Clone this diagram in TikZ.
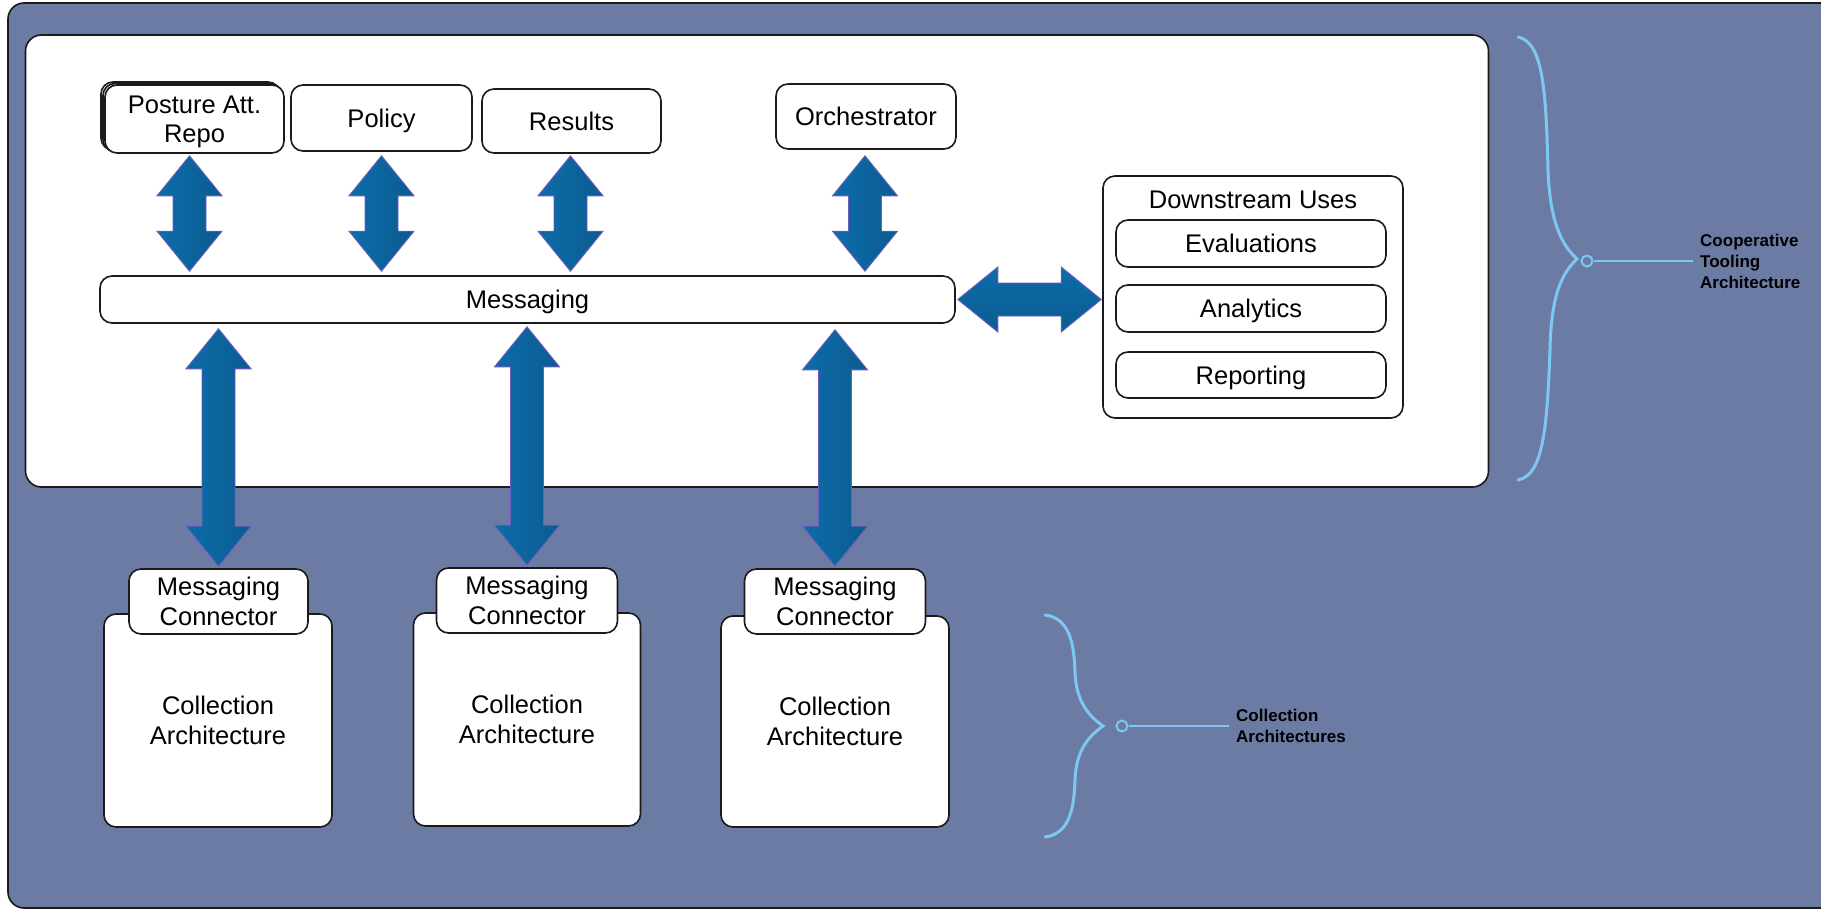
\documentclass[tikz,border=0pt]{standalone}
\usepackage{fontspec}
\setmainfont{Liberation Sans}
\usetikzlibrary{calc}

\definecolor{bgblue}{HTML}{6B7BA3}
\definecolor{arrowA}{HTML}{0C6CA9}
\definecolor{arrowB}{HTML}{0B5C90}
\definecolor{arrowedge}{HTML}{6E5CC4}
\definecolor{bracecol}{HTML}{7DC8F3}
\definecolor{edgecol}{HTML}{1A1A1A}

\tikzset{
  box/.style={draw=edgecol, line width=1.6pt, fill=white, rounded corners=12pt,
    align=center, inner sep=0pt, font=\fontsize{25.5}{29.5}\selectfont},
  oneline/.style={text height=18.3pt, text depth=0pt},
  panel/.style={draw=edgecol, line width=1.6pt, fill=white, rounded corners=16pt, inner sep=0pt},
  arrowshape/.style={draw=arrowedge, line width=0.9pt, line join=miter},
  bracepath/.style={draw=bracecol, line width=3pt, line cap=round},
  bracedot/.style={circle, draw=bracecol, line width=2pt, minimum size=11pt, inner sep=0pt},
  braceline/.style={draw=bracecol, line width=2pt},
  bracelabel/.style={anchor=west, align=left, inner xsep=7pt, inner ysep=0pt,
    font=\fontsize{17}{21}\selectfont\bfseries, text=black},
}

% vertical double arrow: x and top tip from #1, bottom tip from #2
\newcommand\vdarrow[2]{%
  \shadedraw[arrowshape, left color=arrowA, right color=arrowB]
    let \p1=(#1), \p2=(#2) in
    (\x1,\y1) -- (\x1+32.5pt,\y1-40pt) -- (\x1+16.5pt,\y1-40pt)
    -- (\x1+16.5pt,\y2+40pt) -- (\x1+32.5pt,\y2+40pt) -- (\x1,\y2)
    -- (\x1-32.5pt,\y2+40pt) -- (\x1-16.5pt,\y2+40pt)
    -- (\x1-16.5pt,\y1-40pt) -- (\x1-32.5pt,\y1-40pt) -- cycle;}

% horizontal double arrow: y and left tip from #1, right tip from #2
\newcommand\hdarrow[2]{%
  \shadedraw[arrowshape, top color=arrowA, bottom color=arrowB]
    let \p1=(#1), \p2=(#2) in
    (\x1,\y1) -- (\x1+40pt,\y1+32.5pt) -- (\x1+40pt,\y1+16.5pt)
    -- (\x2-40pt,\y1+16.5pt) -- (\x2-40pt,\y1+32.5pt) -- (\x2,\y1)
    -- (\x2-40pt,\y1-32.5pt) -- (\x2-40pt,\y1-16.5pt)
    -- (\x1+40pt,\y1-16.5pt) -- (\x1+40pt,\y1-32.5pt) -- cycle;}

\begin{document}
\begin{tikzpicture}[x=1pt, y=-1pt]
\useasboundingbox (0,0) rectangle (1821,910);
\begin{scope}
\clip (0,0) rectangle (1821,910);

% background
\draw[draw=edgecol, line width=1.6pt, fill=bgblue, rounded corners=16pt]
  (8,3) rectangle (1860,908);

% main panel
\node[panel, minimum width=1463pt, minimum height=452pt] (panel) at (757,261) {};

% top services
\draw[draw=edgecol, line width=1.6pt, fill=white, rounded corners=12pt] (101,82) rectangle (280,150);
\draw[draw=edgecol, line width=1.6pt, fill=white, rounded corners=12pt] (103,83.5) rectangle (282,151.5);
\node[box, text depth=-6pt, minimum width=179pt, minimum height=68pt] (posture) at (194.5,119) {Posture Att.\\Repo};
\node[box, oneline, minimum width=181pt, minimum height=66pt] (policy) at (381.5,118) {Policy};
\node[box, oneline, minimum width=179pt, minimum height=64pt] (results) at (571.5,121) {Results};
\node[box, oneline, minimum width=180pt, minimum height=65pt] (orch) at (866,116.5) {Orchestrator};

% messaging bus
\node[box, oneline, minimum width=855pt, minimum height=47pt] (msg) at (527.5,299.5) {Messaging};

% downstream uses
\node[box, minimum width=300pt, minimum height=242pt] (down) at (1253,297) {};
\node[font=\fontsize{25.5}{29.5}\selectfont, oneline, inner sep=0pt] (downtitle) at (1253,199) {Downstream Uses};
\node[box, oneline, minimum width=270pt, minimum height=47pt] (eval) at (1251,243.5) {Evaluations};
\node[box, oneline, minimum width=270pt, minimum height=47pt] (anal) at (1251,308.5) {Analytics};
\node[box, oneline, minimum width=270pt, minimum height=46pt] (rep) at (1251,375) {Reporting};

% collection architectures
\node[box, minimum width=228pt, minimum height=213pt] (coll1) at (218,720.5) {Collection\\Architecture};
\node[box, minimum width=227pt, minimum height=213pt] (coll2) at (527,719.5) {Collection\\Architecture};
\node[box, minimum width=228pt, minimum height=211pt] (coll3) at (835,721.5) {Collection\\Architecture};
\node[box, minimum width=179pt, minimum height=65pt] (mc1) at (218.5,601.5) {Messaging\\Connector};
\node[box, minimum width=181pt, minimum height=65pt] (mc2) at (527,600.5) {Messaging\\Connector};
\node[box, minimum width=181pt, minimum height=65pt] (mc3) at (835,601.5) {Messaging\\Connector};

% arrows between services and messaging
\vdarrow{$(posture.south)+(-5,2)$}{$(msg.north)+(0,-4)$}
\vdarrow{$(policy.south)+(0,4)$}{$(msg.north)+(0,-4)$}
\vdarrow{$(results.south)+(-1,2)$}{$(msg.north)+(0,-4)$}
\vdarrow{$(orch.south)+(-1,6)$}{$(msg.north)+(0,-4)$}
\hdarrow{$(msg.east)+(2,0)$}{$(down.west)+(-1,0)$}

% arrows between messaging and connectors
\vdarrow{$(mc1.north |- msg.south)+(0,5)$}{$(mc1.north)+(0,-2)$}
\vdarrow{$(mc2.north |- msg.south)+(0,3)$}{$(mc2.north)+(0,-2)$}
\vdarrow{$(mc3.north |- msg.south)+(0,6)$}{$(mc3.north)+(0,-2)$}

% brace: cooperative tooling architecture
\draw[bracepath] (1518,37) .. controls (1543,42) and (1546,90) .. (1548,170)
  .. controls (1550,225) and (1563,246) .. (1577,259)
  .. controls (1563,272) and (1551,293) .. (1550,350)
  .. controls (1547,430) and (1543,475) .. (1518,480);
\node[bracedot] (dotA) at (1587,261) {};
\node[bracelabel] (labA) at (1693,261) {Cooperative\\Tooling\\Architecture};
\draw[braceline] (dotA) -- (labA.west);

% brace: collection architectures
\draw[bracepath] (1045,615) .. controls (1068,618) and (1074,640) .. (1075,672)
  .. controls (1076,702) and (1089,716) .. (1103,726)
  .. controls (1089,736) and (1076,750) .. (1075,780)
  .. controls (1074,812) and (1068,834) .. (1045,837);
\node[bracedot] (dotB) at (1122,726) {};
\node[bracelabel] (labB) at (1229,726) {Collection\\Architectures};
\draw[braceline] (dotB) -- (labB.west);
\end{scope}
\end{tikzpicture}
\end{document}
